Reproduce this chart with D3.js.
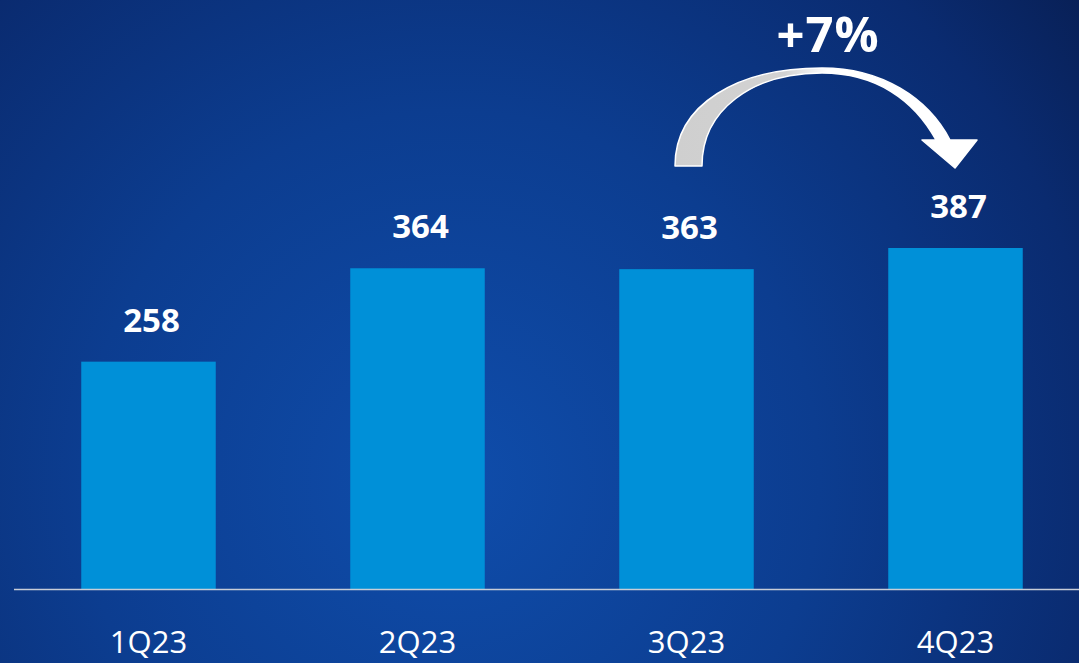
<!DOCTYPE html>
<html>
<head>
<meta charset="utf-8">
<script src="https://cdn.jsdelivr.net/npm/d3@7"></script>
<style>
  html, body { margin: 0; padding: 0; overflow: hidden; }
  svg { display: block; }
</style>
</head>
<body>
<svg id="chart"></svg>
<script>
// values
var quarters = ['1Q23', '2Q23', '3Q23', '4Q23'];
var values = [258, 364, 363, 387];
var growthLabel = '+7%';

var W = 1079, H = 663;
var baseY = 589;

var svg = d3.select('#chart')
    .attr('width', W)
    .attr('height', H);

var defs = svg.append('defs');

// background: lighter blue in the middle, darker towards the top right
var bg = defs.append('radialGradient')
    .attr('id', 'bg')
    .attr('gradientUnits', 'userSpaceOnUse')
    .attr('cx', 450).attr('cy', 480).attr('r', 820);
bg.append('stop').attr('offset', '0%').attr('stop-color', '#0f4dab');
bg.append('stop').attr('offset', '45%').attr('stop-color', '#0c3d90');
bg.append('stop').attr('offset', '80%').attr('stop-color', '#0a2b70');
bg.append('stop').attr('offset', '100%').attr('stop-color', '#081e52');

var arrowGrad = defs.append('linearGradient')
    .attr('id', 'arrowFill')
    .attr('gradientUnits', 'userSpaceOnUse')
    .attr('x1', 675).attr('y1', 0).attr('x2', 980).attr('y2', 0);
arrowGrad.append('stop').attr('offset', '0%').attr('stop-color', '#cfcfcf');
arrowGrad.append('stop').attr('offset', '36%').attr('stop-color', '#d2d2d2');
arrowGrad.append('stop').attr('offset', '50%').attr('stop-color', '#ffffff');
arrowGrad.append('stop').attr('offset', '100%').attr('stop-color', '#ffffff');

svg.append('rect')
    .attr('width', W).attr('height', H)
    .attr('fill', 'url(#bg)');

var x = d3.scaleBand()
    .domain(quarters)
    .range([14, 1090])
    .paddingInner(0.5)
    .paddingOuter(0.25);

var y = d3.scaleLinear()
    .domain([0, 387])
    .range([baseY, 248]);

var font = '"Open Sans", "Noto Sans", sans-serif';

svg.append('g')
    .selectAll('rect')
    .data(values)
    .enter()
    .append('rect')
    .attr('x', function(d, i) { return x(quarters[i]); })
    .attr('y', function(d) { return y(d); })
    .attr('width', x.bandwidth())
    .attr('height', function(d) { return baseY - y(d); })
    .attr('fill', '#0090d8');

// baseline
svg.append('line')
    .attr('x1', 14).attr('x2', W)
    .attr('y1', baseY + 0.5).attr('y2', baseY + 0.5)
    .attr('stroke', '#c8cdd8')
    .attr('stroke-width', 1.5);

// value labels
svg.append('g')
    .selectAll('text')
    .data(values)
    .enter()
    .append('text')
    .attr('x', function(d, i) { return x(quarters[i]) + x.bandwidth() / 2 + 3; })
    .attr('y', function(d) { return y(d) - 30; })
    .attr('text-anchor', 'middle')
    .attr('fill', '#ffffff')
    .style('font-family', font)
    .style('font-weight', 700)
    .style('font-size', '33px')
    .text(function(d) { return d; });

// category labels
svg.append('g')
    .selectAll('text')
    .data(quarters)
    .enter()
    .append('text')
    .attr('x', function(d) { return x(d) + x.bandwidth() / 2; })
    .attr('y', 653)
    .attr('text-anchor', 'middle')
    .attr('fill', '#ffffff')
    .style('font-family', font)
    .style('font-size', '31px')
    .text(function(d) { return d; });

// curved growth arrow from 3Q23 to 4Q23
var arrowPath = 'M675,166 C675,104 738,68 822,68 C882,68 928,98 950,140 '
    + 'L977,140 L955,168 L922,140 L936,140 '
    + 'C914,100 876,73 822,73 C752,73 702,110 702,166 Z';

svg.append('path')
    .attr('d', arrowPath)
    .attr('fill', 'url(#arrowFill)')
    .attr('stroke', '#ffffff')
    .attr('stroke-width', 1.5)
    .attr('stroke-linejoin', 'round');

svg.append('text')
    .attr('x', 828)
    .attr('y', 52)
    .attr('text-anchor', 'middle')
    .attr('fill', '#ffffff')
    .style('font-family', font)
    .style('font-weight', 700)
    .style('font-size', '49px')
    .style('letter-spacing', '1px')
    .text(growthLabel);
</script>
</body>
</html>
